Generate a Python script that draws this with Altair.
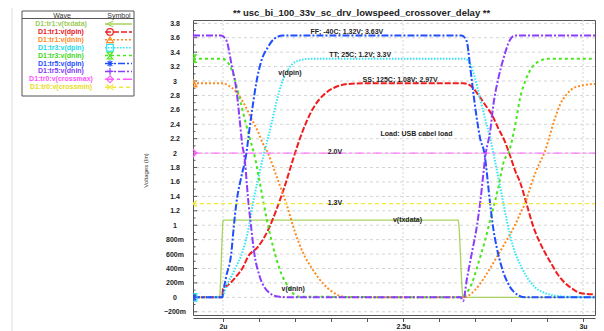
import altair as alt
import pandas as pd

FONT = "Liberation Sans"
TITLE = "** usc_bi_100_33v_sc_drv_lowspeed_crossover_delay **"

NAMES = ["D1:tr1:v(txdata)", "D1:tr1:v(dpin)", "D1:tr1:v(dnin)", "D1:tr3:v(dpin)",
         "D1:tr3:v(dnin)", "D1:tr5:v(dpin)", "D1:tr5:v(dnin)", "D1:tr0:v(crossmax)",
         "D1:tr0:v(crossmin)"]
COLORS = ["#a8d35f", "#f21d1d", "#ff8a1f", "#2fe6f5", "#48e61c", "#1f4dff", "#8a3cff", "#ff5cff", "#f2e83a"]
LEGEND_TEXT_COLORS = ["#9ccc55", "#e8151b", "#ff8a1f", "#22d8ea", "#3fd81a", "#1f4dff", "#7d3cf5", "#ff55ff", "#e8dc20"]
DASHES = [[1, 0], [6, 2], [2, 2], [1.5, 1.5], [3, 3], [7, 2, 2, 2], [7, 2, 2, 2], [9, 3, 3, 3], [4, 3]]
WIDTHS = [1.3, 2, 2, 2, 2, 2, 2, 1, 1.3]
SHAPES = ["M1,-0.8L-1,0L1,0.8", "circle", "triangle-up", "square",
          "M-0.8,-1L0.8,-1L-0.8,1L0.8,1Z",
          "M-1,0L1,0M0,-1L0,1M-0.7,-0.7L0.7,0.7M-0.7,0.7L0.7,-0.7",
          "M-1,0L1,0M0,-1L0,1", "diamond", "M-1,-0.8L1,0.8M-1,0.8L1,-0.8"]

X_DOMAIN = [1.9167, 3.0333]
Y_DOMAIN = [-0.245, 3.846]
X_TICKS = [2.0, 2.1, 2.2, 2.3, 2.4, 2.5, 2.6, 2.7, 2.8, 2.9, 3.0]
X_GRID = [2.0, 2.5, 3.0]
Y_TICKS = [-0.2, 0.0, 0.2, 0.4, 0.6, 0.8, 1.0, 1.2, 1.4, 1.6, 1.8, 2.0, 2.2, 2.4,
           2.6, 2.8, 3.0, 3.2, 3.4, 3.6, 3.8]
Y_MINOR = [-0.1, 0.1, 0.3, 0.5, 0.7, 0.9, 1.1, 1.3, 1.5, 1.7, 1.9, 2.1, 2.3, 2.5,
           2.7, 2.9, 3.1, 3.3, 3.5, 3.7]

# ---- waveforms (time in us, voltage in V) ----
TXDATA_T = [1.9167, 1.99, 2.001, 2.653, 2.667, 3.0333]
TXDATA_V = [0, 0, 1.07, 1.07, 0, 0]

TR1_DPIN_T = [1.9167, 1.998, 2.0, 2.014, 2.037, 2.056, 2.069, 2.097, 2.125, 2.148, 2.172,
              2.195, 2.215, 2.235, 2.255, 2.28, 2.31, 2.35, 2.40, 2.668, 2.691, 2.709,
              2.728, 2.747, 2.765, 2.783, 2.797, 2.812, 2.825, 2.843, 2.862, 2.886,
              2.908, 2.931, 2.95, 2.97, 2.992, 3.0333]
TR1_DPIN_V = [0, 0, 0.12, 0.17, 0.29, 0.42, 0.56, 0.70, 0.93, 1.21, 1.55,
              1.92, 2.22, 2.47, 2.66, 2.81, 2.91, 2.96, 2.97, 2.97, 2.92, 2.81,
              2.67, 2.53, 2.34, 2.16, 1.97, 1.75, 1.60, 1.30, 0.98, 0.70,
              0.50, 0.31, 0.20, 0.12, 0.06, 0.04]

TR1_DNIN_T = [1.9167, 2.0, 2.014, 2.037, 2.06, 2.079, 2.097, 2.111, 2.125, 2.14, 2.158,
              2.176, 2.199, 2.222, 2.25, 2.278, 2.30, 2.32, 2.345, 2.667, 2.70, 2.728,
              2.756, 2.783, 2.811, 2.83, 2.839, 2.848, 2.867, 2.881, 2.894, 2.908,
              2.922, 2.936, 2.954, 2.973, 3.0, 3.0333]
TR1_DNIN_V = [2.97, 2.97, 2.94, 2.85, 2.67, 2.48, 2.30, 2.13, 2.0, 1.80, 1.55,
              1.30, 0.92, 0.62, 0.38, 0.19, 0.09, 0.03, 0.0, 0.0, 0.10, 0.29,
              0.52, 0.75, 1.0, 1.21, 1.30, 1.44, 1.72, 1.88, 2.02, 2.25,
              2.48, 2.67, 2.81, 2.90, 2.94, 2.96]

TR3_DPIN_T = [1.9167, 1.997, 2.009, 2.032, 2.056, 2.072, 2.083, 2.098, 2.114, 2.134, 2.148,
              2.162, 2.181, 2.208, 2.245, 2.672, 2.686, 2.70, 2.714, 2.728, 2.742, 2.751,
              2.779, 2.788, 2.806, 2.829, 2.857, 2.894, 2.95, 3.0333]
TR3_DPIN_V = [0, 0.0, 0.15, 0.38, 0.66, 0.98, 1.30, 1.65, 2.0, 2.39, 2.70,
              2.95, 3.16, 3.28, 3.31, 3.31, 3.24, 3.04, 2.76, 2.48, 2.21, 2.0,
              1.30, 1.07, 0.70, 0.42, 0.19, 0.06, 0.01, 0]

TR3_DNIN_T = [1.9167, 1.997, 2.018, 2.032, 2.046, 2.06, 2.074, 2.086, 2.102, 2.113, 2.13,
              2.144, 2.162, 2.185, 2.208, 2.667, 2.672, 2.691, 2.709, 2.728, 2.747, 2.754,
              2.765, 2.781, 2.793, 2.806, 2.815, 2.825, 2.839, 2.857, 2.876, 2.904, 3.0333]
TR3_DNIN_V = [3.31, 3.31, 3.22, 3.04, 2.76, 2.48, 2.21, 2.0, 1.60, 1.30, 0.89,
              0.61, 0.33, 0.12, 0.01, 0, 0.03, 0.19, 0.47, 0.79, 1.17, 1.30,
              1.53, 1.90, 2.0, 2.25, 2.48, 2.76, 2.99, 3.18, 3.27, 3.31, 3.31]

TR5_DPIN_T = [1.9167, 1.998, 2.0, 2.009, 2.023, 2.03, 2.037, 2.05, 2.065, 2.074, 2.083,
              2.093, 2.106, 2.125, 2.143, 2.167, 2.663, 2.677, 2.686, 2.695, 2.705, 2.714,
              2.726, 2.742, 2.75, 2.76, 2.774, 2.792, 2.82, 2.84, 3.0333]
TR5_DPIN_V = [0, 0, 0.06, 0.29, 0.61, 0.98, 1.30, 1.65, 2.0, 2.35, 2.67,
              2.99, 3.27, 3.47, 3.59, 3.63, 3.63, 3.55, 3.22, 2.85, 2.48, 2.21,
              2.0, 1.30, 0.98, 0.70, 0.42, 0.19, 0.03, 0, 0]

TR5_DNIN_T = [1.9167, 1.995, 2.009, 2.024, 2.038, 2.046, 2.055, 2.058, 2.071, 2.078, 2.087,
              2.102, 2.125, 2.153, 2.19, 2.66, 2.667, 2.677, 2.691, 2.705, 2.714, 2.73,
              2.742, 2.751, 2.765, 2.779, 2.797, 2.811, 3.0333]
TR5_DNIN_V = [3.63, 3.63, 3.57, 3.22, 2.85, 2.48, 2.07, 2.0, 1.30, 0.98, 0.61,
              0.29, 0.08, 0.01, 0.0, 0.0, -0.05, 0.24, 0.61, 0.98, 1.30, 2.0,
              2.30, 2.67, 3.04, 3.31, 3.57, 3.63, 3.63]

CROSSMAX_T = [1.9167, 3.0333]
CROSSMAX_V = [2.0, 2.0]
CROSSMIN_T = [1.9167, 3.0333]
CROSSMIN_V = [1.3, 1.3]

SERIES = [(TXDATA_T, TXDATA_V), (TR1_DPIN_T, TR1_DPIN_V), (TR1_DNIN_T, TR1_DNIN_V),
          (TR3_DPIN_T, TR3_DPIN_V), (TR3_DNIN_T, TR3_DNIN_V), (TR5_DPIN_T, TR5_DPIN_V),
          (TR5_DNIN_T, TR5_DNIN_V), (CROSSMAX_T, CROSSMAX_V), (CROSSMIN_T, CROSSMIN_V)]

ANNOT_TEXT = ["FF; -40C; 1.32V; 3.63V", "TT; 25C; 1.2V; 3.3V", "v(dpin)",
              "SS; 125C; 1.08V; 2.97V", "Load: USB cabel load", "2.0V", "1.3V",
              "v(txdata)", "v(dnin)"]
ANNOT_T = [2.344, 2.381, 2.186, 2.492, 2.5375, 2.311, 2.311, 2.5125, 2.195]
ANNOT_V = [3.68, 3.36, 3.11, 3.01, 2.27, 2.02, 1.31, 1.07, 0.12]

# ---- tables ----
rows = []
for name, (ts, vs) in zip(NAMES, SERIES):
    for t, v in zip(ts, vs):
        rows.append({"series": name, "t": t, "v": v})
df = pd.DataFrame(rows)
start_df = pd.DataFrame({"series": NAMES, "t": [s[0][0] for s in SERIES], "v": [s[1][0] for s in SERIES]})
annot_df = pd.DataFrame({"label": ANNOT_TEXT, "t": ANNOT_T, "v": ANNOT_V})
xgrid_df = pd.DataFrame({"t": X_GRID})
ygrid_df = pd.DataFrame({"v": Y_TICKS})
yminor_df = pd.DataFrame({"v": Y_MINOR})
ONE = pd.DataFrame({"k": [0]})

xs = alt.Scale(domain=X_DOMAIN, nice=False, zero=False)
ys = alt.Scale(domain=Y_DOMAIN, nice=False, zero=False)

x_axis = alt.Axis(values=X_TICKS, grid=False, offset=3, domainColor="#555", tickColor="#555",
                  tickSize=3.5, labelPadding=0.5, labelFont=FONT, labelFontSize=7,
                  labelFontWeight="bold", labelColor="#222", labelFlush=False, labelOverlap=False,
                  labelExpr="abs(datum.value*2 - round(datum.value*2)) < 0.000001 ? format(datum.value, '~g') + 'u' : ''",
                  title="Time (lin) (TIME)", titleFont=FONT, titleFontSize=7,
                  titleFontWeight="normal", titleColor="#333", titlePadding=0)
y_axis = alt.Axis(values=Y_TICKS, grid=False, domain=False, ticks=False, labelPadding=18.5,
                  labelAlign="center",
                  labelFont=FONT, labelFontSize=7, labelFontWeight="bold", labelColor="#222",
                  labelOverlap=False, labelFlush=False,
                  labelExpr="(datum.value != 0 && abs(datum.value) < 0.999) ? format(round(datum.value*1000), 'd') + 'm' : format(datum.value, '~g')",
                  title="Voltages (lin)", titleFont=FONT, titleFontSize=6, titleFontWeight="normal",
                  titleColor="#333", titleX=-45, titleY=150)


def X(field="t"):
    return alt.X(f"{field}:Q", scale=xs, axis=x_axis)


def Y(field="v"):
    return alt.Y(f"{field}:Q", scale=ys, axis=y_axis)


layers = []

# grid
layers.append(alt.Chart(ygrid_df).mark_rule(color="#d4d4d4", strokeWidth=1, strokeDash=[3, 3]).encode(y=Y()))
layers.append(alt.Chart(xgrid_df).mark_rule(color="#d4d4d4", strokeWidth=1, strokeDash=[2, 2]).encode(x=X()))
# inner y ticks
layers.append(alt.Chart(ygrid_df).mark_rule(color="#555", strokeWidth=1).encode(
    y=Y(), x=alt.value(0), x2=alt.value(4)))
layers.append(alt.Chart(yminor_df).mark_rule(color="#555", strokeWidth=1).encode(
    y=Y(), x=alt.value(0), x2=alt.value(2.5)))

# waveforms
for name, col, dash, w in zip(NAMES, COLORS, DASHES, WIDTHS):
    layers.append(alt.Chart(df).transform_filter(alt.datum.series == name).mark_line(
        color=col, strokeDash=dash, strokeWidth=w, interpolate="monotone").encode(x=X(), y=Y()))

# start markers (clipped at the frame)
for name, col, shp in zip(NAMES, COLORS, SHAPES):
    layers.append(alt.Chart(start_df).transform_filter(alt.datum.series == name).mark_point(
        shape=shp, color=col, filled=False, size=55, strokeWidth=1.5, clip=True, opacity=1).encode(
        x=X(), y=Y()))

# annotations
layers.append(alt.Chart(annot_df).mark_text(font=FONT, fontSize=7, fontWeight="bold", color="#222",
                                             align="center", baseline="middle").encode(
    x=X(), y=Y(), text="label:N"))

# chart title (as a text mark, above the frame)
layers.append(alt.Chart(ONE).mark_text(text=TITLE, font=FONT, fontSize=9.5, fontWeight="bold",
                                       color="#222", align="left", baseline="middle").encode(
    x=alt.value(40), y=alt.value(-7)))

# page border
layers.append(alt.Chart(ONE).mark_rule(color="#dddddd", strokeWidth=1).encode(
    x=alt.value(-181), x2=alt.value(411), y=alt.value(-14)))
layers.append(alt.Chart(ONE).mark_rule(color="#dddddd", strokeWidth=1).encode(
    x=alt.value(-181), y=alt.value(-14), y2=alt.value(320)))

# legend key (drawn in the left margin)
layers.append(alt.Chart(ONE).mark_rect(fill="white", stroke="#555", strokeWidth=1).encode(
    x=alt.value(-171), x2=alt.value(-59), y=alt.value(-9), y2=alt.value(76)))
layers.append(alt.Chart(ONE).mark_rule(color="#555", strokeWidth=1).encode(
    x=alt.value(-171), x2=alt.value(-59), y=alt.value(-1.5)))
layers.append(alt.Chart(ONE).mark_text(text="Wave", font=FONT, fontSize=7, color="#333").encode(
    x=alt.value(-131), y=alt.value(-4.5)))
layers.append(alt.Chart(ONE).mark_text(text="Symbol", font=FONT, fontSize=7, color="#333").encode(
    x=alt.value(-74), y=alt.value(-4.5)))
for i, (name, tc, col, dash, shp) in enumerate(zip(NAMES, LEGEND_TEXT_COLORS, COLORS, DASHES, SHAPES)):
    ly = 4 + i * 7.9
    layers.append(alt.Chart(ONE).mark_text(text=name, font=FONT, fontSize=7, fontWeight="bold",
                                           color=tc).encode(x=alt.value(-132), y=alt.value(ly)))
    layers.append(alt.Chart(ONE).mark_rule(color=col, strokeDash=dash, strokeWidth=1.5).encode(
        x=alt.value(-88), x2=alt.value(-61), y=alt.value(ly)))
    layers.append(alt.Chart(ONE).mark_point(shape=shp, color=col, filled=False, size=45,
                                            strokeWidth=1.2, opacity=1).encode(
        x=alt.value(-83), y=alt.value(ly)))

chart = alt.layer(*layers).properties(
    width=402, height=295,
    padding={"left": 185, "top": 12, "right": 1, "bottom": 24},
    autosize=alt.AutoSizeParams(type="none"),
    background="white",
).configure_view(stroke="#555", strokeWidth=1)

chart.save("out.html", embed_options={"renderer": "svg", "actions": False})
